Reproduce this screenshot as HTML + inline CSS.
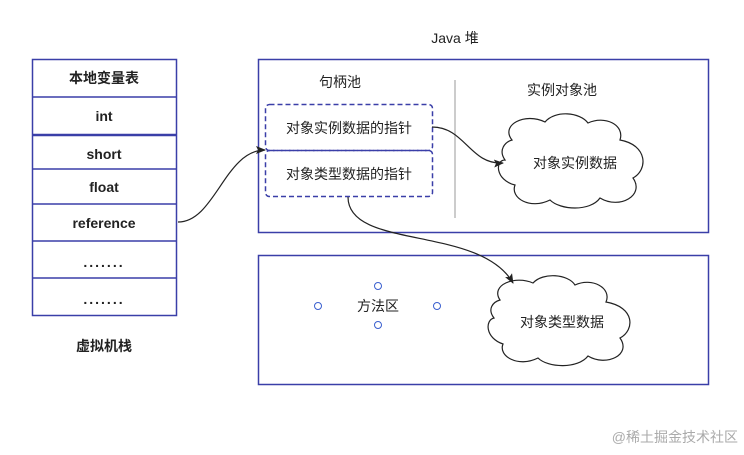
<!DOCTYPE html>
<html><head><meta charset="utf-8"><style>
body{margin:0;background:#fff;}
svg text{font-family:"Liberation Sans","Noto Sans CJK SC",sans-serif;fill:#222;}
</style></head><body>
<svg width="744" height="450" viewBox="0 0 744 450" xmlns="http://www.w3.org/2000/svg">
<defs><marker id="a" markerWidth="10" markerHeight="8" refX="9" refY="4" orient="auto" markerUnits="userSpaceOnUse"><path d="M0,0 L10,4 L0,8 L2,4 z" fill="#222"/></marker></defs>
<g fill="none" stroke="#3a3fa8" stroke-width="1.5">
<rect x="32.5" y="59.5" width="144" height="256"/>
<line x1="32" y1="97" x2="176" y2="97"/>
<line x1="32" y1="135" x2="176" y2="135" stroke-width="2.5"/>
<line x1="32" y1="169" x2="176" y2="169"/>
<line x1="32" y1="204" x2="176" y2="204"/>
<line x1="32" y1="241" x2="176" y2="241"/>
<line x1="32" y1="278" x2="176" y2="278"/>
<rect x="258.5" y="59.5" width="450" height="173"/>
<rect x="258.5" y="255.5" width="450" height="129"/>
<rect x="265.5" y="104.5" width="167" height="46" rx="4" stroke-dasharray="5,3"/>
<rect x="265.5" y="150.5" width="167" height="46" rx="4" stroke-dasharray="5,3"/>
</g>
<line x1="455" y1="80" x2="455" y2="218" stroke="#bbb" stroke-width="1.5"/>
<g fill="#fff" stroke="#222" stroke-width="1.2">
<path d="M512,140 C500,125 525,112 545,122 C555,110 580,112 588,123 C605,115 625,125 620,140 C648,145 648,170 633,178 C645,195 620,210 600,198 C590,212 560,210 550,200 C530,210 510,198 515,185 C495,180 495,160 505,160 C498,150 505,142 512,140 z"/>
<path d="M500,300 C490,285 515,275 533,283 C543,272 568,274 575,285 C592,277 612,288 606,302 C635,307 635,330 620,338 C632,355 606,367 588,356 C578,369 548,368 538,358 C518,368 498,356 503,344 C485,338 485,320 494,318 C487,309 493,302 500,300 z"/>
</g>
<g fill="none" stroke="#222" stroke-width="1.2">
<path d="M178,222 C215,222 225,150 265,150" marker-end="url(#a)"/>
<path d="M432,127 C465,127 470,165 503,163" marker-end="url(#a)"/>
<path d="M348,197 C348,250 480,225 513,283" marker-end="url(#a)"/>
</g>
<g fill="#fff" stroke="#3a5fcf" stroke-width="1">
<circle cx="378" cy="286" r="3.5"/><circle cx="318" cy="306" r="3.5"/><circle cx="437" cy="306" r="3.5"/><circle cx="378" cy="325" r="3.5"/>
</g>
<g font-size="14" text-anchor="middle" font-weight="bold">
<text x="104" y="83">本地变量表</text>
<text x="104" y="121">int</text>
<text x="104" y="159">short</text>
<text x="104" y="192">float</text>
<text x="104" y="228">reference</text>
<text x="104" y="267" letter-spacing="2">.......</text>
<text x="104" y="304" letter-spacing="2">.......</text>
<text x="104" y="351">虚拟机栈</text>
</g>
<g font-size="14" text-anchor="middle">
<text x="455" y="43">Java 堆</text>
<text x="340" y="87">句柄池</text>
<text x="562" y="95">实例对象池</text>
<text x="349" y="133">对象实例数据的指针</text>
<text x="349" y="179">对象类型数据的指针</text>
<text x="575" y="168">对象实例数据</text>
<text x="562" y="327">对象类型数据</text>
<text x="378" y="311">方法区</text>
</g>
<text x="738" y="442" font-size="14" text-anchor="end" style="fill:#aaa">@稀土掘金技术社区</text>
</svg>
</body></html>
